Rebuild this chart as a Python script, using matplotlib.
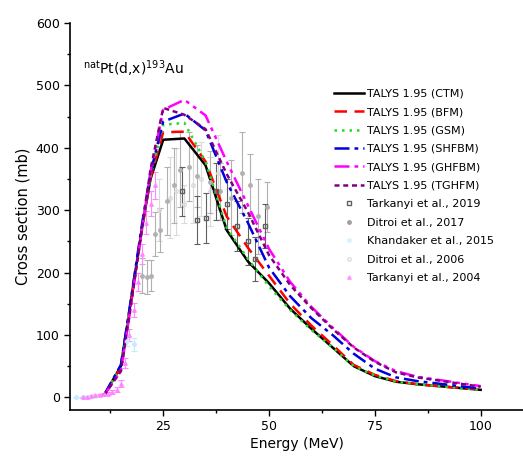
import matplotlib
matplotlib.use("Agg")
import matplotlib.pyplot as plt
from matplotlib.lines import Line2D

plt.rcParams['font.family'] = ['DejaVu Sans']

# TALYS 1.95 model curves (energy in MeV, cross section in mb)
e_talys = [11, 15, 17, 20, 22, 25, 30, 35, 40, 45, 50, 55, 60, 65, 70, 75, 80, 85, 90, 95, 100]
ctm = [3, 50, 138, 272, 350, 413, 415, 372, 268, 218, 183, 142, 110, 80, 50, 34, 25, 21, 18, 15, 12]
bfm = [3, 48, 135, 270, 352, 425, 426, 378, 290, 240, 195, 150, 115, 84, 52, 36, 26, 21, 18, 15, 13]
gsm = [3, 50, 138, 274, 355, 437, 440, 378, 272, 222, 178, 140, 108, 80, 50, 35, 25, 21, 18, 15, 12]
shfbm = [3, 52, 140, 278, 360, 442, 455, 428, 345, 280, 208, 162, 127, 100, 70, 46, 32, 26, 22, 18, 14]
ghfbm = [3, 42, 130, 270, 362, 461, 477, 452, 378, 308, 238, 185, 145, 112, 81, 58, 42, 33, 28, 23, 18]
tghfm = [3, 42, 130, 272, 365, 464, 453, 430, 358, 297, 228, 180, 143, 110, 80, 57, 40, 32, 27, 22, 17]

# experimental data
e_t19 = [29.5, 32.9, 35.0, 37.5, 40.0, 42.5, 45.0, 46.6, 49.0]
s_t19 = [330, 284, 287, 330, 310, 275, 250, 222, 275]
d_t19 = [40, 38, 40, 45, 40, 40, 38, 35, 35]

e_d17 = [20.0, 21.2, 22.0, 23.0, 24.2, 26.0, 27.5, 29.0, 31.0, 33.0, 36.0, 38.5, 41.0, 43.5, 45.5, 47.5, 49.5]
s_d17 = [195, 193, 195, 262, 268, 315, 340, 365, 370, 355, 345, 330, 320, 360, 340, 290, 305]
d_d17 = [28, 27, 25, 35, 35, 55, 60, 60, 55, 50, 50, 45, 60, 65, 50, 60, 40]

e_k15 = [4.5, 6.0, 7.5, 9.0, 16.5, 18.0]
s_k15 = [0, 0, 1, 2, 90, 85]
d_k15 = [1, 1, 1, 1, 8, 10]

e_d06 = [24.0, 26.5, 28.0, 30.0, 32.0, 34.0, 36.0, 38.0]
s_d06 = [300, 320, 330, 310, 340, 350, 330, 360]
d_d06 = [50, 65, 70, 30, 60, 60, 55, 60]

e_t04 = [6.0, 7.0, 8.0, 9.0, 10.0, 11.0, 12.0, 13.0, 14.0, 15.0, 16.0, 17.0, 18.0, 19.0, 20.0, 21.0, 22.0, 23.0]
s_t04 = [0, 1, 2, 3, 4, 5, 6, 8, 12, 22, 55, 100, 140, 185, 230, 280, 310, 340]
d_t04 = [1, 1, 1, 1, 1, 2, 2, 3, 4, 6, 8, 10, 12, 14, 16, 18, 20, 22]

fig = plt.figure(figsize=(5.23, 4.62), dpi=100)
ax = fig.add_axes([0.134, 0.113, 0.866, 0.837])

eb = dict(linestyle='none', markersize=2.5, capsize=2.5, elinewidth=0.8, capthick=0.8)
ax.errorbar(e_d06, s_d06, yerr=d_d06, marker='o', color='#dadada', mfc='none', **eb)
ax.errorbar(e_d17, s_d17, yerr=d_d17, marker='o', color='#b0b0b0', **eb)
ax.errorbar(e_t19, s_t19, yerr=d_t19, marker='s', color='#606060', mfc='none', **eb)
ax.errorbar(e_k15, s_k15, yerr=d_k15, marker='o', color='#c4ecff', **eb)
ax.errorbar(e_t04, s_t04, yerr=d_t04, marker='^', color='#ff88ff', **eb)

lw = 1.8
ax.plot(e_talys, ctm, color='black', lw=lw, label='TALYS 1.95 (CTM)')
ax.plot(e_talys, bfm, color='red', lw=lw, ls=(0, (5, 3)), label='TALYS 1.95 (BFM)')
ax.plot(e_talys, gsm, color='#22dd22', lw=lw, ls=(0, (1, 2)), label='TALYS 1.95 (GSM)')
ax.plot(e_talys, shfbm, color='#0000dd', lw=lw, ls=(0, (6, 2, 1.5, 2)), label='TALYS 1.95 (SHFBM)')
ax.plot(e_talys, ghfbm, color='#ff00ff', lw=lw, ls=(0, (6, 2, 1.5, 2, 1.5, 2)), label='TALYS 1.95 (GHFBM)')
ax.plot(e_talys, tghfm, color='#800080', lw=lw, ls=(0, (2, 1.5)), label='TALYS 1.95 (TGHFM)')

ax.set_xlim(3, 110)
ax.set_ylim(-20, 600)
ax.set_xticks([25, 50, 75, 100])
ax.set_xticks([12.5, 37.5, 62.5, 87.5], minor=True)
ax.set_yticks(range(0, 601, 100))
ax.set_yticks(range(50, 600, 100), minor=True)
ax.tick_params(direction='out', labelsize=9, length=4, width=1)
ax.tick_params(which='minor', direction='out', length=2.5, width=1)
for s in ['top', 'right']:
    ax.spines[s].set_visible(False)
for s in ['left', 'bottom']:
    ax.spines[s].set_linewidth(1.2)

ax.set_xlabel('Energy (MeV)', fontsize=10, labelpad=3)
ax.set_ylabel('Cross section (mb)', fontsize=10.5, labelpad=4)
ax.text(6, 518, r'$^{\mathrm{nat}}$Pt(d,x)$^{193}$Au', fontsize=10)

handles, labels = ax.get_legend_handles_labels()
exp_entries = [('s', '#606060', 'none', 'Tarkanyi et al., 2019'),
               ('o', '#a0a0a0', '#a0a0a0', 'Ditroi et al., 2017'),
               ('o', '#d8f2ff', '#d8f2ff', 'Khandaker et al., 2015'),
               ('o', '#dddddd', 'none', 'Ditroi et al., 2006'),
               ('^', '#ff99ff', '#ff99ff', 'Tarkanyi et al., 2004')]
for m, c, fc, lab in exp_entries:
    handles.append(Line2D([], [], ls='none', marker=m, color=c, mfc=fc, markersize=2.5))
    labels.append(lab)
ax.legend(handles, labels, frameon=False,
          loc='upper left', bbox_to_anchor=(0.57, 0.845), fontsize=8,
          handlelength=2.7, handletextpad=0.3, labelspacing=0.76, borderpad=0)

fig.savefig('out.png', dpi=100)
